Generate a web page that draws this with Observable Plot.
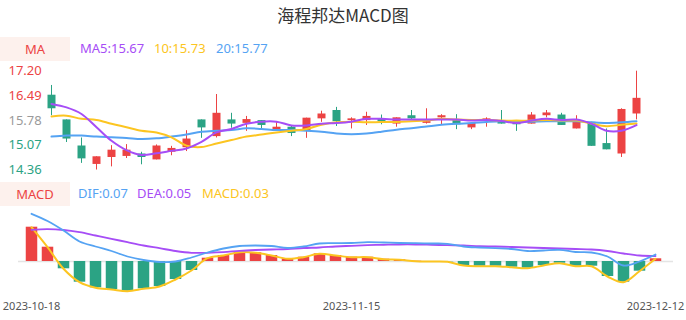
<!DOCTYPE html>
<html><head><meta charset="utf-8">
<script src="https://cdn.jsdelivr.net/npm/d3@7"></script>
<script src="https://cdn.jsdelivr.net/npm/@observablehq/plot@0.6"></script>
<style>
html,body{margin:0;padding:0;background:#fff;}
#root{position:relative;width:686px;height:320px;overflow:hidden;font-family:"Noto Sans","Noto Sans CJK SC",sans-serif;}
.abs{position:absolute;}
#title{left:0;top:0;width:686px;text-align:center;font-size:17px;line-height:30px;color:#333;font-family:"Noto Sans CJK SC","Noto Sans",sans-serif;}
.tag{left:0;width:70px;height:24px;line-height:24px;background:#fdf1ed;color:#ec4343;text-align:center;font-size:13px;}
.leg{font-size:13px;line-height:24px;white-space:nowrap;}
</style></head>
<body>
<div id="root">
  <div id="title" class="abs">海程邦达MACD图</div>
  <div class="abs tag" style="top:37px">MA</div>
  <div id="maLeg"></div>
  <div id="topPlot" class="abs" style="left:0;top:60px"></div>
  <div class="abs tag" style="top:182px">MACD</div>
  <div id="macdLeg"></div>
  <div id="botPlot" class="abs" style="left:0;top:200px"></div>
</div>
<script>
const dates = ["2023-10-18","2023-10-19","2023-10-20","2023-10-23","2023-10-24","2023-10-25","2023-10-26","2023-10-27","2023-10-30","2023-10-31",
"2023-11-01","2023-11-02","2023-11-03","2023-11-06","2023-11-07","2023-11-08","2023-11-09","2023-11-10","2023-11-13","2023-11-14",
"2023-11-15","2023-11-16","2023-11-17","2023-11-20","2023-11-21","2023-11-22","2023-11-23","2023-11-24","2023-11-27","2023-11-28",
"2023-11-29","2023-11-30","2023-12-01","2023-12-04","2023-12-05","2023-12-06","2023-12-07","2023-12-08","2023-12-11","2023-12-12"];
const opens = [16.51,15.80,15.05,14.52,14.72,14.75,14.82,14.65,14.87,15.00,15.80,15.32,15.80,15.70,15.78,15.51,15.59,15.49,15.83,16.07,15.78,15.78,15.83,15.68,15.92,15.70,15.86,15.78,15.57,15.79,15.78,15.73,15.68,15.92,15.94,15.54,15.73,15.12,14.82,15.97];
const closes = [16.12,15.25,14.68,14.74,14.93,14.93,14.72,15.05,14.98,15.25,15.57,15.99,15.68,15.81,15.64,15.59,15.41,15.85,15.97,15.75,15.83,15.90,15.75,15.86,15.83,15.75,15.92,15.66,15.70,15.83,15.68,15.66,15.94,16.00,15.64,15.75,15.04,14.94,16.10,16.42];
const highs = [16.79,15.80,15.28,14.74,15.06,15.09,14.87,15.08,15.04,15.49,15.80,16.53,15.99,15.90,15.78,15.75,15.64,15.85,16.05,16.16,15.86,16.02,15.94,15.86,16.07,16.12,15.95,15.95,15.70,15.86,16.07,15.73,16.01,16.07,15.99,15.92,15.73,15.54,16.12,17.20];
const lows = [15.92,15.15,14.55,14.36,14.45,14.69,14.51,14.65,14.77,14.89,15.27,15.28,15.56,15.47,15.51,15.47,15.32,15.27,15.73,15.61,15.54,15.64,15.66,15.59,15.81,15.68,15.64,15.52,15.52,15.59,15.68,15.47,15.68,15.86,15.64,15.54,15.04,14.94,14.72,15.80];
const ma5 = [16.26,16.16,15.97,15.59,15.20,14.93,14.79,14.84,14.91,14.98,15.17,15.44,15.54,15.69,15.75,15.75,15.64,15.64,15.69,15.71,15.75,15.83,15.83,15.81,15.81,15.81,15.81,15.81,15.78,15.80,15.77,15.71,15.78,15.83,15.80,15.81,15.69,15.49,15.49,15.65];
const ma10 = [15.90,15.92,15.83,15.80,15.69,15.59,15.49,15.44,15.30,15.06,15.02,15.12,15.22,15.32,15.38,15.44,15.49,15.54,15.66,15.73,15.75,15.73,15.74,15.74,15.76,15.78,15.83,15.81,15.80,15.80,15.78,15.78,15.78,15.80,15.78,15.78,15.69,15.62,15.66,15.70];
const ma20 = [15.32,15.35,15.35,15.32,15.30,15.28,15.25,15.27,15.32,15.38,15.46,15.49,15.51,15.56,15.54,15.51,15.51,15.49,15.46,15.41,15.39,15.41,15.46,15.52,15.56,15.61,15.66,15.69,15.71,15.74,15.76,15.75,15.75,15.76,15.76,15.76,15.73,15.71,15.73,15.76];
const dif = [0.477,0.405,0.31,0.20,0.15,0.105,0.05,0.015,-0.005,0.0,0.04,0.09,0.13,0.155,0.16,0.155,0.135,0.15,0.18,0.183,0.185,0.193,0.19,0.185,0.183,0.18,0.177,0.15,0.14,0.133,0.125,0.105,0.11,0.117,0.095,0.09,0.05,-0.04,0.0,0.07];
const dea = [0.317,0.323,0.315,0.293,0.26,0.227,0.193,0.16,0.133,0.105,0.087,0.087,0.093,0.107,0.115,0.12,0.125,0.135,0.14,0.15,0.157,0.163,0.167,0.17,0.17,0.167,0.163,0.16,0.153,0.15,0.145,0.14,0.135,0.13,0.125,0.12,0.105,0.08,0.06,0.055];
const macd = [0.343,0.143,-0.073,-0.207,-0.263,-0.28,-0.297,-0.273,-0.25,-0.18,-0.09,0.033,0.06,0.093,0.087,0.06,0.027,0.043,0.077,0.06,0.043,0.043,0.023,0.017,0.003,0.0,-0.003,-0.04,-0.047,-0.047,-0.057,-0.067,-0.04,-0.017,-0.047,-0.047,-0.15,-0.207,-0.097,0.027];
const priceTicks = [17.20,16.49,15.78,15.07,14.36];
const maLegend = ["MA5:15.67","10:15.73","20:15.77"];
const macdLegend = ["DIF:0.07","DEA:0.05","MACD:0.03"];
const xLabels = ["2023-10-18","2023-11-15","2023-12-12"];

const RED="#ec4343", GREEN="#2ba384", PURPLE="#a64df6", YELLOW="#fcc521", BLUE="#55a3f3", MID="#9a9a9a";

function legend(id, items, colors, lefts, top){
  const host = document.getElementById(id);
  items.forEach((t,k)=>{
    const s = document.createElement("div");
    s.className = "abs leg";
    s.style.left = lefts[k]+"px"; s.style.top = top+"px"; s.style.color = colors[k];
    s.textContent = t; host.appendChild(s);
  });
}
legend("maLeg", maLegend, [PURPLE,YELLOW,BLUE], [80,154,216], 36);
legend("macdLeg", macdLegend, [BLUE,PURPLE,YELLOW], [78,137,202], 181);

const candles = dates.map((date,i)=>({date, open:opens[i], close:closes[i], high:highs[i], low:lows[i], ma5:ma5[i], ma10:ma10[i], ma20:ma20[i]}));
const col = d => d.close >= d.open ? RED : GREEN;
const style = {fontFamily:"'Noto Sans', sans-serif", fontSize:"11px", background:"transparent", overflow:"visible"};

const topChart = Plot.plot({
  width:686, height:120, margin:0, style,
  x:{type:"point", domain:dates, range:[50,636], padding:0, axis:null},
  y:{domain:[14.36,17.20], range:[109.5,10.7], axis:null},
  color:{type:"identity"},
  marks:[
    Plot.text(priceTicks,{y:d=>d, text:d=>d.toFixed(2), frameAnchor:"left", textAnchor:"start", dx:8, fontSize:13,
      fill:d=> d>15.78 ? RED : (d<15.78 ? GREEN : MID)}),
    Plot.ruleX(candles,{x:"date", y1:"low", y2:"high", stroke:col, strokeWidth:1}),
    Plot.ruleX(candles,{x:"date", y1:"open", y2:"close", stroke:col, strokeWidth:8}),
    Plot.line(candles,{x:"date", y:"ma20", stroke:BLUE, strokeWidth:2, curve:"catmull-rom"}),
    Plot.line(candles,{x:"date", y:"ma10", stroke:YELLOW, strokeWidth:2, curve:"catmull-rom"}),
    Plot.line(candles,{x:"date", y:"ma5", stroke:PURPLE, strokeWidth:2, curve:"catmull-rom"})
  ]
});
document.getElementById("topPlot").appendChild(topChart);

const rows = dates.map((date,i)=>({date, dif:dif[i], dea:dea[i], macd:macd[i]}));
const botChart = Plot.plot({
  width:686, height:120, marginTop:11, marginBottom:24, marginLeft:0, marginRight:0, style,
  x:{type:"point", domain:dates, range:[28,658], padding:0, label:null},
  y:{domain:[-0.35,0.5], range:[96,11], axis:null},
  color:{type:"identity"},
  marks:[
    Plot.ruleY([0],{stroke:"#e4e4e4", strokeWidth:1.5, insetLeft:18, insetRight:13}),
    Plot.ruleX(rows,{x:"date", y1:0, y2:"macd", stroke:d=> d.macd>=0 ? RED : GREEN, strokeWidth:11.5}),
    Plot.line(rows,{x:"date", y:"macd", stroke:YELLOW, strokeWidth:2, curve:"catmull-rom"}),
    Plot.line(rows,{x:"date", y:"dea", stroke:PURPLE, strokeWidth:1.8, curve:"catmull-rom"}),
    Plot.line(rows,{x:"date", y:"dif", stroke:BLUE, strokeWidth:1.8, curve:"catmull-rom"}),
    Plot.axisX({ticks:xLabels, tickSize:0, tickPadding:6, fontSize:11, fill:"#555", label:null})
  ]
});
document.getElementById("botPlot").appendChild(botChart);
</script>
</body></html>
